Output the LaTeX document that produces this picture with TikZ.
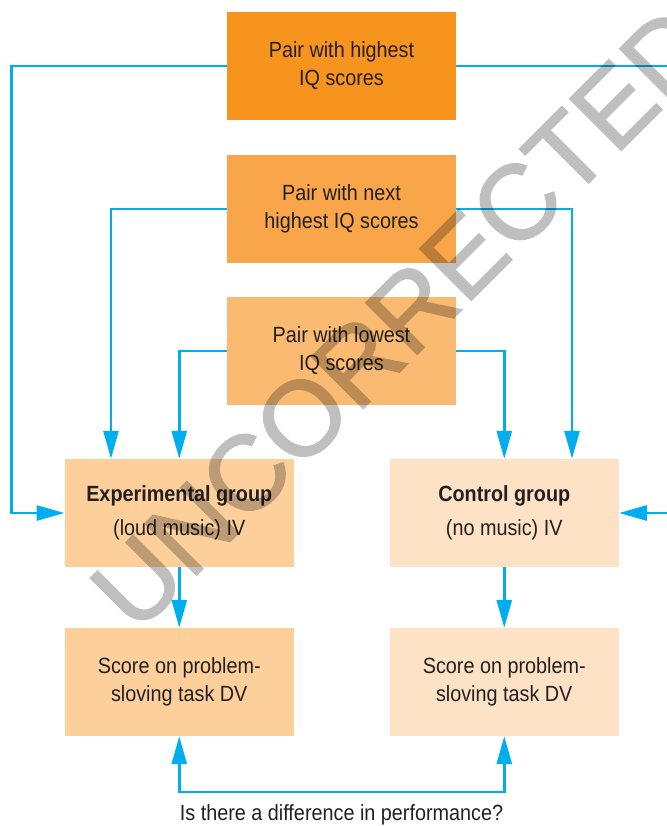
\documentclass[tikz,border=0pt]{standalone}
\usepackage{fontspec}
\setmainfont{Liberation Sans}[FakeStretch=0.9]
\newfontfamily\wmfont{Liberation Sans}[FakeBold=1.5]
\usetikzlibrary{arrows.meta}

\definecolor{flowblue}{HTML}{00AEEF}
\definecolor{boxA}{HTML}{F7941E}
\definecolor{boxB}{HTML}{F9A64A}
\definecolor{boxC}{HTML}{FABA72}
\definecolor{boxD}{HTML}{FDCF9B}
\definecolor{boxE}{HTML}{FDE2C5}
\definecolor{ink}{HTML}{231F20}

\tikzset{
  card/.style={minimum width=229pt, minimum height=108pt, inner sep=0pt,
    align=center, text=ink, font=\fontsize{22}{28}\selectfont},
  conn/.style={draw=flowblue, line width=2.8pt,
    -{Triangle[length=28pt,width=15pt]}},
  both/.style={draw=flowblue, line width=2.8pt,
    {Triangle[length=28pt,width=15pt]}-{Triangle[length=28pt,width=15pt]}},
}

\begin{document}
\begin{tikzpicture}[x=1pt,y=-1pt]
\useasboundingbox (0,0) rectangle (666,826);

% pairing boxes
\node[card, fill=boxA] (top)  at (341.5,66)  {Pair with highest\\IQ scores};
\node[card, fill=boxB] (next) at (341.5,209) {Pair with next\\highest IQ scores};
\node[card, fill=boxC] (low)  at (341.5,351) {Pair with lowest\\IQ scores};

% groups
\node[card, fill=boxD] (exp)  at (179.25,513) {\textbf{Experimental group}\\[6pt](loud music) IV};
\node[card, fill=boxE] (ctrl) at (504.25,513) {\textbf{Control group}\\[6pt](no music) IV};

% outcome measures
\node[card, fill=boxD] (sexp)  at (179.25,682) {Score on problem-\\sloving task DV};
\node[card, fill=boxE] (sctrl) at (504.25,682) {Score on problem-\\sloving task DV};

% routing points
\coordinate (lt) at (11.5,66);
\coordinate (rt) at (684,66);
\coordinate (bl) at (179.25,792);
\coordinate (br) at (504.25,792);

% connectors
\draw[conn] (top.west) -- (lt) |- (exp.west);
\draw[conn] (top.east) -- (rt) |- (ctrl.east);
\draw[conn] (next.west) -| ([xshift=-68.25pt]exp.north);
\draw[conn] (next.east) -| ([xshift=67.75pt]ctrl.north);
\draw[conn] (low.west) -| (exp.north);
\draw[conn] (low.east) -| (ctrl.north);
\draw[conn] (exp.south) -- (sexp.north);
\draw[conn] (ctrl.south) -- (sctrl.north);
\draw[both] (sexp.south) -- (bl) -- (br) -- (sctrl.south);

\node[text=ink, font=\fontsize{22}{28}\selectfont, anchor=base] (q) at (341.5,820)
  {Is there a difference in performance?};

% watermark, composited as one translucent layer
\begin{scope}[transparency group, opacity=0.25]
\node[rotate=45, text=black, font=\wmfont\fontsize{106}{106}\selectfont]
  (wm) at (402,318) {UNCORRECTED};
\end{scope}
\end{tikzpicture}
\end{document}
